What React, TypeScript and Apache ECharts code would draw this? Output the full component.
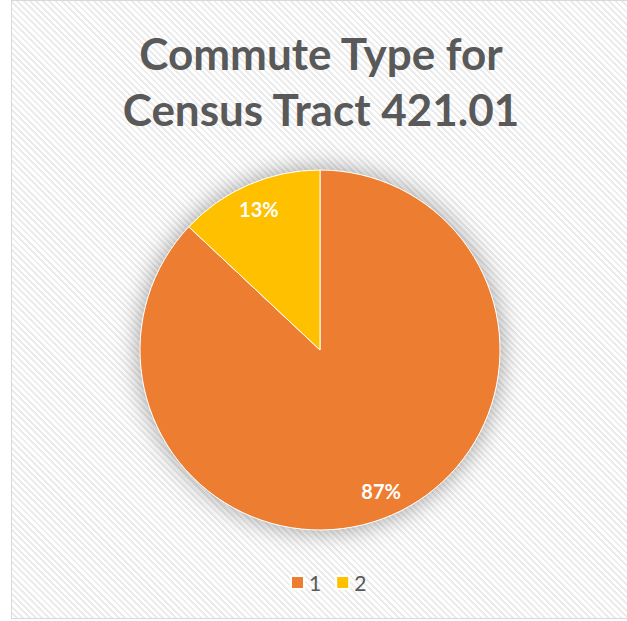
import React, { useEffect, useRef } from "react";
import * as echarts from "echarts";

const categories = ["1", "2"];
const values = [87, 13];
const colors = ["#ED7D31", "#FFC000"];
const titleText = "Commute Type for\nCensus Tract 421.01";

export default function App() {
  const ref = useRef<HTMLDivElement>(null);
  useEffect(() => {
    if (!ref.current) return;
    const chart = echarts.init(ref.current, undefined, { renderer: "svg" });
    const data = categories.map((c, i) => ({ name: c, value: values[i], itemStyle: { color: colors[i] } }));
    chart.setOption({
      animation: false,
      backgroundColor: "transparent",
      title: {
        text: titleText,
        left: 316,
        textAlign: "center",
        top: 20,
        textStyle: {
          fontFamily: "Lato",
          fontWeight: "bold",
          fontSize: 44,
          lineHeight: 56,
          color: "#595959",
        },
      },
      legend: {
        data: categories,
        top: 572,
        left: 290,
        padding: 0,
        icon: "rect",
        itemWidth: 13,
        itemHeight: 13,
        itemGap: 14,
        textStyle: { fontFamily: "Lato", fontSize: 21, color: "#595959" },
        selectedMode: false,
      },
      series: [
        {
          type: "pie",
          silent: true,
          center: [320, 350],
          radius: [0, 180],
          data: [{ name: "shadow", value: 1, itemStyle: { color: "#ffffff" } }],
          label: { show: false },
          labelLine: { show: false },
          itemStyle: { shadowBlur: 26, shadowColor: "rgba(0,0,0,0.38)" },
        },
        {
          type: "pie",
          name: "Commute",
          silent: true,
          center: [320, 350],
          radius: [0, 180],
          startAngle: 90,
          clockwise: true,
          data,
          label: { show: false },
          labelLine: { show: false },
          itemStyle: { borderColor: "#ffffff", borderWidth: 1 },
        },
        {
          type: "pie",
          silent: true,
          center: [320, 350],
          radius: [122, 180],
          startAngle: 90,
          clockwise: true,
          data: categories.map((c, i) => ({ name: c, value: values[i], itemStyle: { color: "transparent" } })),
          label: {
            show: true,
            position: "inside",
            formatter: "{d}%",
            fontFamily: "Lato",
            fontWeight: "bold",
            fontSize: 20,
            color: "#ffffff",
          },
          labelLine: { show: false },
          legendHoverLink: false,
        },
      ],
    });
    return () => chart.dispose();
  }, []);
  return (
    <div style={{ position: "fixed", left: 0, top: 0, width: 627, height: 621, background: "#fff", overflow: "hidden" }}>
      <div
        style={{
          position: "absolute",
          left: 11,
          top: 0,
          width: 640,
          height: 617,
          border: "1px solid #d9d9d9",
          backgroundImage:
            "repeating-linear-gradient(45deg, #ffffff 0px, #ffffff 2.5px, #ececec 2.5px, #ececec 4.5px)",
        }}
      />
      <div ref={ref} style={{ position: "absolute", left: 0, top: 0, width: 627, height: 621 }} />
    </div>
  );
}
